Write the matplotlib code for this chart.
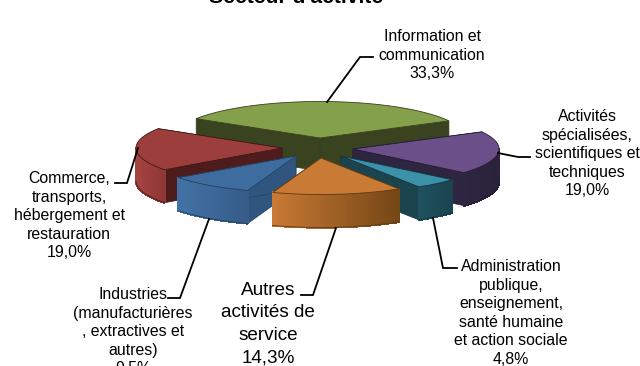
import numpy as np
import matplotlib
matplotlib.use("Agg")
import matplotlib.pyplot as plt
from matplotlib.patches import Polygon
from matplotlib.colors import to_rgb

plt.rcParams['font.family'] = ['Liberation Sans', 'DejaVu Sans']

# --- data
title = "Secteur d'activité"
categories = [["Information et", "communication"],
              ["Activités", "spécialisées,", "scientifiques et", "techniques"],
              ["Administration", "publique,", "enseignement,", "santé humaine", "et action sociale"],
              ["Autres", "activités de", "service"],
              ["Industries", "(manufacturières", ", extractives et", "autres)"],
              ["Commerce,", "transports,", "hébergement et", "restauration"]]
values = [33.3, 19.0, 4.8, 14.3, 9.5, 19.0]
value_labels = ["33,3%", "19,0%", "4,8%", "14,3%", "9,5%", "19,0%"]

# --- layout / style
start_angle = 148.0
radius = 146.0
squash = 0.25
depth = 33.0
apex_x = [320, 353, 341, 321, 296, 282]
apex_y = [138, 149, 156, 158, 156, 148]
top_cols = ['#84A04A', '#6A4F88', '#3B91A8', '#C97A35', '#3F6C9F', '#9C3E3C']
face_cols = ['#3A431F', '#2E2540', '#1B444F', '#6E4318', '#30557F', '#4E1C1C']
wall_left = ['#84A04A', '#2E2540', '#1F5260', '#C97A35', '#4273A6', '#A84442']
wall_right = ['#3A431F', '#2B233C', '#1B444F', '#744715', '#365C88', '#8E3836']
edge_cols = ['#36401C', '#241C34', '#153640', '#5E3A14', '#25405F', '#401818']
draw_order = [0, 1, 5, 2, 4, 3]

label_x = [432, 587, 511, 268, 133, 69]
first_baseline = [41, 121, 271, 295, 299, 183]
line_step = [18.6, 18.6, 18.6, 22.4, 18.6, 18.6]
label_size = [11.4, 11.4, 11.4, 13.6, 11.4, 11.4]
leaders = [
    ([327, 360, 373], [102, 57, 57]),
    ([498, 518, 530], [153, 157, 157]),
    ([433, 443, 457], [218, 268, 268]),
    ([336, 313, 301], [228, 295, 295]),
    ([209, 180, 168], [219, 298, 298]),
    ([138, 127, 115], [148, 183, 183]),
]

fig = plt.figure(figsize=(6.4, 3.66), dpi=100)
ax = fig.add_axes([0, 0, 1, 1])
ax.set_xlim(0, 640)
ax.set_ylim(366, 0)
ax.axis('off')

spans = np.array(values) / sum(values) * 360.0
stops = start_angle - np.cumsum(np.r_[0, spans])


def arc_xy(i, a0, a1, n=60):
    t = np.radians(np.linspace(a0, a1, n))
    return apex_x[i] + radius * np.cos(t), apex_y[i] - radius * squash * np.sin(t)


def mix(c1, c2, f):
    a, b = np.array(to_rgb(c1)), np.array(to_rgb(c2))
    return tuple(a + (b - a) * f)


for z, i in enumerate(draw_order):
    a0, a1 = stops[i], stops[i + 1]
    base = z * 10 + 2
    # radial cut faces
    for a in (a0, a1):
        ex, ey = arc_xy(i, a, a, 1)
        ax.add_patch(Polygon([(apex_x[i], apex_y[i]), (ex[0], ey[0]),
                              (ex[0], ey[0] + depth), (apex_x[i], apex_y[i] + depth)],
                             closed=True, fc=face_cols[i], ec=edge_cols[i], lw=0.5, zorder=base))
    # outer wall (only the front part of the rim), shaded left to right
    lo, hi = a1, a0
    ranges = []
    for w0, w1 in ((-180, 0), (-540, -360), (180, 360)):
        l, h = max(lo, w0), min(hi, w1)
        if h > l:
            ranges.append((l, h))
    for l, h in ranges:
        xs, ys = arc_xy(i, l, h, 41)
        xa, xb = xs.min(), xs.max()
        for k in range(40):
            f = ((xs[k] + xs[k + 1]) / 2 - xa) / max(xb - xa, 1)
            col = mix(wall_left[i], wall_right[i], f)
            ax.add_patch(Polygon([(xs[k], ys[k]), (xs[k + 1], ys[k + 1]),
                                  (xs[k + 1], ys[k + 1] + depth), (xs[k], ys[k] + depth)],
                                 closed=True, fc=col, ec=col, lw=1.0, antialiased=False, zorder=base + 1))
        ax.plot(xs, ys + depth, color=edge_cols[i], lw=0.6, zorder=base + 2)
    # top face
    ax_, ay_ = arc_xy(i, a0, a1)
    ax.add_patch(Polygon(np.c_[np.r_[apex_x[i], ax_], np.r_[apex_y[i], ay_]],
                         closed=True, fc=top_cols[i], ec=edge_cols[i], lw=0.6, zorder=base + 3))

for (lx, ly) in leaders:
    ax.plot(lx, ly, color='black', lw=1.3, zorder=100, solid_joinstyle='miter')

for i, cat in enumerate(categories):
    for n, line in enumerate(cat + [value_labels[i]]):
        ax.text(label_x[i], first_baseline[i] + n * line_step[i], line, ha='center', va='baseline',
                fontsize=label_size[i], color='black', zorder=101, clip_on=False)

ax.text(296, 3, title, ha='center', va='baseline', fontsize=15.2, fontweight='bold',
        color='black', zorder=101)

fig.savefig('out.png', dpi=100)
